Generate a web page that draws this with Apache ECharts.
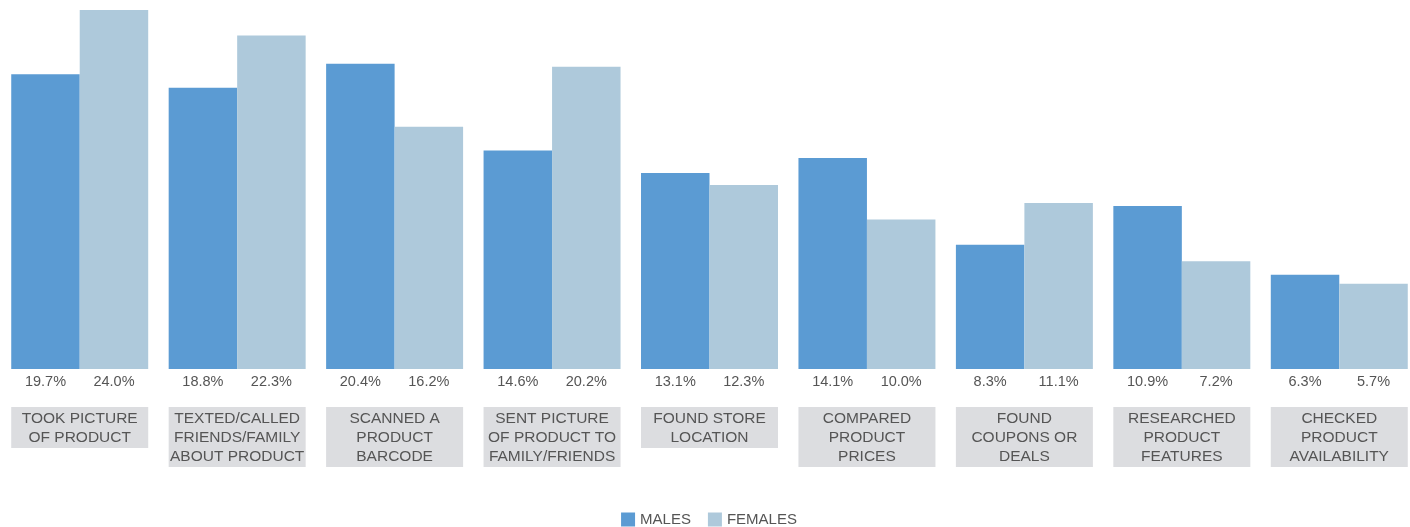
<!DOCTYPE html>
<html>
<head>
<meta charset="utf-8">
<script src="https://cdn.jsdelivr.net/npm/echarts@6/dist/echarts.min.js"></script>
<style>
  html, body { margin: 0; padding: 0; background: #fff; overflow: hidden; }
  #chart { width: 1418px; height: 527px; }
</style>
</head>
<body>
<div id="chart"></div>
<script>
// categories (line breaks as in the picture)
const categories = [
  'TOOK PICTURE\nOF PRODUCT',
  'TEXTED/CALLED\nFRIENDS/FAMILY\nABOUT PRODUCT',
  'SCANNED A\nPRODUCT\nBARCODE',
  'SENT PICTURE\nOF PRODUCT TO\nFAMILY/FRIENDS',
  'FOUND STORE\nLOCATION',
  'COMPARED\nPRODUCT\nPRICES',
  'FOUND\nCOUPONS OR\nDEALS',
  'RESEARCHED\nPRODUCT\nFEATURES',
  'CHECKED\nPRODUCT\nAVAILABILITY'
]
const males = [19.7, 18.8, 20.4, 14.6, 13.1, 14.1, 8.3, 10.9, 6.3]
const females = [24.0, 22.3, 16.2, 20.2, 12.3, 10.0, 11.1, 7.2, 5.7]

const chart = echarts.init(document.getElementById('chart'))

const valueLabel = {
  show: true,
  position: 'bottom',
  distance: 5,
  color: '#555',
  fontSize: 14.5,
  fontFamily: 'Liberation Sans',
  formatter: (p) => p.value.toFixed(1) + '%'
}

chart.setOption({
  animation: false,
  grid: { left: 1, right: 0, top: 10, height: 359 },
  legend: {
    top: 507,
    left: 'center',
    icon: 'rect',
    itemWidth: 14,
    itemHeight: 14,
    itemGap: 17,
    textStyle: { color: '#555', fontSize: 15, fontFamily: 'Liberation Sans' },
    data: ['MALES', 'FEMALES']
  },
  xAxis: {
    type: 'category',
    data: categories,
    axisLine: { show: false },
    axisTick: { show: false },
    axisLabel: {
      interval: 0,
      margin: 38,
      color: '#555',
      fontSize: 15.5,
      lineHeight: 19,
      fontFamily: 'Liberation Sans',
      backgroundColor: '#dcdde0',
      width: 137,
      padding: [2, 0, 1, 0],
      align: 'center'
    }
  },
  yAxis: {
    type: 'value',
    min: 0,
    max: 24,
    show: false,
    splitLine: { show: false }
  },
  series: [
    {
      name: 'MALES',
      type: 'bar',
      data: males,
      barCategoryGap: '13%',
      barGap: '0%',
      itemStyle: { color: '#5b9bd3' },
      label: valueLabel
    },
    {
      name: 'FEMALES',
      type: 'bar',
      data: females,
      barCategoryGap: '13%',
      barGap: '0%',
      itemStyle: { color: '#aec9db' },
      label: valueLabel
    }
  ]
})
</script>
</body>
</html>
